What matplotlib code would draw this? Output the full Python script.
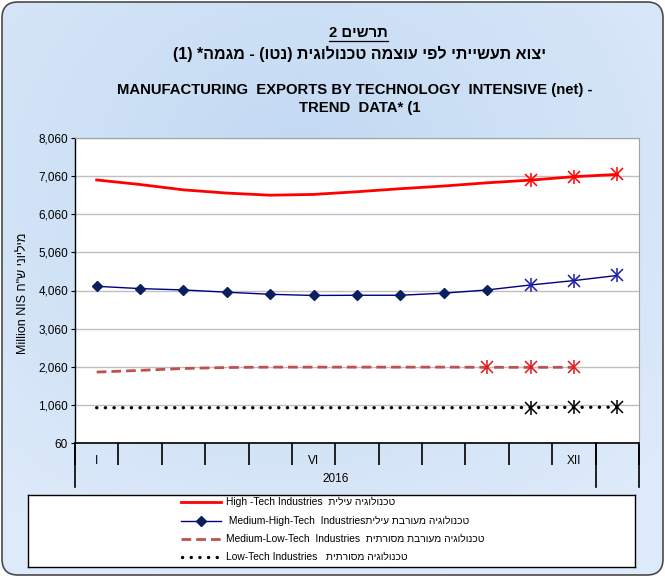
import numpy as np
import matplotlib.pyplot as plt
import matplotlib.transforms as mtransforms
from matplotlib.patches import FancyBboxPatch
from matplotlib.lines import Line2D

plt.rcParams['font.family'] = ['Liberation Sans', 'DejaVu Sans']

# נתונים - מגמה, מיליוני ש"ח
months = ['I', '', '', '', '', 'VI', '', '', '', '', '', 'XII', '']
year_label = '2016'
high_tech = [6960, 6840, 6700, 6615, 6560, 6580, 6650, 6730, 6800, 6885, 6955, 7045, 7105]
med_high_tech = [4170, 4110, 4075, 4015, 3960, 3930, 3935, 3935, 3990, 4075, 4205, 4320, 4455]
med_low_tech = [1920, 1965, 2015, 2040, 2050, 2050, 2050, 2050, 2050, 2045, 2045, 2045]
low_tech = [985, 985, 985, 985, 985, 985, 985, 985, 985, 988, 990, 995, 1000]
y_ticks = [60, 1060, 2060, 3060, 4060, 5060, 6060, 7060, 8060]


def rtl(s):
    # הפיכת טקסט עברי לסדר תצוגה משמאל לימין
    return s[::-1].translate(str.maketrans('()', ')('))


W, H = 665, 576
fig = plt.figure(figsize=(W / 100, H / 100), dpi=100)
fig.patch.set_facecolor('white')

# רקע עם מעבר צבע ומסגרת מעוגלת
bg = fig.add_axes([0, 0, 1, 1], zorder=-10)
bg.set_xlim(0, W)
bg.set_ylim(H, 0)
bg.axis('off')
yy, xx = np.mgrid[0:1:200j, 0:1:200j]
r = np.clip(np.sqrt(((xx - 0.45) / 0.75) ** 2 + ((yy - 0.3) / 0.75) ** 2), 0, 1)
c_in = np.array([0.76, 0.85, 0.95])
c_out = np.array([0.87, 0.92, 0.98])
img = c_in + (c_out - c_in) * r[..., None]
frame = FancyBboxPatch((2, 2), W - 4, H - 3, boxstyle='round,pad=0,rounding_size=16',
                       facecolor='none', edgecolor='#4a4a4a', lw=1.2)
bg.add_patch(frame)
im = bg.imshow(img, extent=[0, W, H, 0], aspect='auto')
im.set_clip_path(frame)

# כותרות
fig.text(358 / W, 1 - 33 / H, rtl('תרשים 2'), ha='center', va='center',
         fontsize=10.7, fontweight='bold')
bg.plot([329, 388], [41, 41], color='black', lw=0.9)
fig.text(360 / W, 1 - 54 / H, rtl('יצוא תעשייתי לפי עוצמה טכנולוגית (נטו) - מגמה* (1)'),
         ha='center', va='center', fontsize=11.5, fontweight='bold')
fig.text(355 / W, 1 - 90 / H, 'MANUFACTURING  EXPORTS BY TECHNOLOGY  INTENSIVE (net) -',
         ha='center', va='center', fontsize=10.7, fontweight='bold')
fig.text(360 / W, 1 - 108 / H, 'TREND  DATA* (1', ha='center', va='center',
         fontsize=10.7, fontweight='bold')

# גרף ראשי
ax = fig.add_axes([75 / W, 1 - 443 / H, 564 / W, 305 / H])
ax.set_facecolor('white')
x = np.arange(len(months))

ax.plot(x, high_tech, color='#FF0000', lw=2.0, zorder=4)
ax.plot(x, med_high_tech, color='#000080', lw=1.0, zorder=4)
ax.plot(x[:10], med_high_tech[:10], ls='none', marker='D', markersize=5,
        color='#0B1F5E', zorder=5)
xl = np.arange(len(med_low_tech))
ax.plot(xl, med_low_tech, color='#C0504D', lw=2.0, dashes=(3.5, 1.8), zorder=4)
ax.plot(x, low_tech, color='black', lw=2.4, dashes=(0.05, 2.55),
        dash_capstyle='round', zorder=4)


def stars(xs, ys, color):
    ax.plot(xs, ys, ls='none', marker='x', markersize=8, mew=1.1, color=color, zorder=6)
    ax.plot(xs, ys, ls='none', marker='|', markersize=10, mew=1.1, color=color, zorder=6)


stars(x[10:], high_tech[10:], '#FF0000')
stars(x[10:], med_high_tech[10:], '#1C1CA8')
stars(xl[9:], med_low_tech[9:], '#E3161B')
stars(x[10:], low_tech[10:], 'black')

ax.set_xlim(-0.5, len(months) - 0.5)
ax.set_ylim(60, 8060)
ax.set_yticks(y_ticks)
ax.set_yticklabels([f'{v:,}' for v in y_ticks], fontsize=8.5)
ax.yaxis.grid(True, color='#BFBFBF', lw=1)
ax.set_axisbelow(True)
ax.tick_params(axis='y', length=3, width=0.8, pad=2)

ax.set_xticks(np.arange(-0.5, len(months)), minor=False)
ax.set_xticklabels([])
ax.tick_params(axis='x', which='major', length=16, width=1.2, direction='out')
ax.set_xticks(x, minor=True)
ax.set_xticklabels(months, minor=True, fontsize=8.5)
ax.tick_params(axis='x', which='minor', length=0, pad=9)

for side in ['top', 'right']:
    ax.spines[side].set_color('#A0A0A0')
ax.spines['left'].set_linewidth(1.0)
ax.spines['bottom'].set_linewidth(1.2)

trans = mtransforms.blended_transform_factory(ax.transData, ax.transAxes)
for xb in [-0.5, 11.5, 12.5]:
    ax.plot([xb, xb], [0, -44 / 305], color='black', lw=1.2, transform=trans, clip_on=False)
ax.text(5.5, -36 / 305, year_label, transform=trans, ha='center', va='center', fontsize=8.5)

fig.text(23 / W, 1 - 293 / H, 'Million NIS ' + rtl('מיליוני ש"ח'), rotation=90,
         ha='center', va='center', fontsize=9)

# מקרא
lax = fig.add_axes([28 / W, 1 - 567 / H, 607 / W, 72 / H])
lax.set_xlim(28, 635)
lax.set_ylim(567, 495)
lax.set_xticks([])
lax.set_yticks([])
lax.set_facecolor('white')
for s in lax.spines.values():
    s.set_color('black')
    s.set_linewidth(1.0)

rows = [502, 521, 539, 557]
lax.add_line(Line2D([181, 221], [rows[0]] * 2, color='#FF0000', lw=2.0))
lax.add_line(Line2D([181, 221], [rows[1]] * 2, color='#000080', lw=1.0))
lax.plot([201], [rows[1]], marker='D', markersize=5, color='#0B1F5E')
lax.add_line(Line2D([181, 221], [rows[2]] * 2, color='#C0504D', lw=2.0, dashes=(3.5, 1.8)))
lax.add_line(Line2D([182, 222], [rows[3]] * 2, color='black', lw=2.4, dashes=(0.05, 2.55),
                    dash_capstyle='round'))
labels = [
    'High -Tech Industries  ' + rtl('טכנולוגיה עילית'),
    ' Medium-High-Tech  Industries' + rtl('טכנולוגיה מעורבת עילית'),
    'Medium-Low-Tech  Industries  ' + rtl('טכנולוגיה מעורבת מסורתית'),
    'Low-Tech Industries   ' + rtl('טכנולוגיה מסורתית'),
]
for yr, lab in zip(rows, labels):
    lax.text(226, yr, lab, ha='left', va='center', fontsize=7.4)

fig.savefig('out.png', dpi=100, facecolor='white')
